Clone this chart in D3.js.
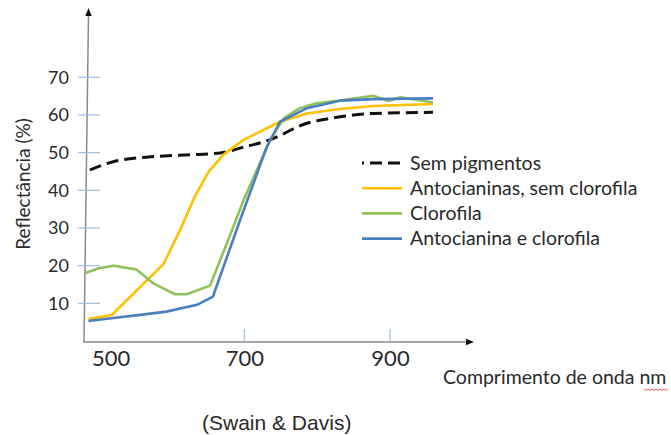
<!DOCTYPE html>
<html>
<head>
<meta charset="utf-8">
<script src="https://cdn.jsdelivr.net/npm/d3@7"></script>
<style>
  body { margin: 0; background: #fff; }
  text { font-family: Lato, "Open Sans", sans-serif; fill: #2a2a2a; }
</style>
</head>
<body>
<svg id="chart" width="671" height="435"></svg>
<script>
// values (wavelength nm, reflectance %)
var semPigmentos = [[488,45.4],[520,47.6],[566,48.8],[620,49.4],[667,49.9],[694,51.2],[735,53.4],[786,57.8],[818,59.1],[877,60.4],[959,60.7]];
var antocianinas = [[486,5.8],[518,6.9],[589,20.4],[612,29.5],[632,38.3],[651,44.9],[671,49.4],[699,53.4],[749,58.2],[786,60.4],[831,61.6],[877,62.4],[959,62.9]];
var clorofila = [[481,18.0],[500,19.3],[520,20.0],[552,19.0],[575,15.3],[605,12.4],[621,12.4],[653,14.7],[676,25.9],[699,37.4],[735,53.2],[754,59.1],[776,61.8],[799,63.1],[831,63.8],[877,65.1],[898,63.7],[914,64.7],[959,63.3]];
var antoClorofila = [[486,5.3],[520,6.1],[560,7.0],[593,7.8],[635,9.6],[657,11.8],[694,32.0],[731,51.6],[749,58.2],[786,61.8],[831,63.8],[877,64.2],[959,64.4]];

var seriesNames = ["Sem pigmentos", "Antocianinas, sem clorofila", "Clorofila", "Antocianina e clorofila"];
var xTicks = [500, 700, 900];
var xTickMarks = [700, 900];
var yTicks = [10, 20, 30, 40, 50, 60, 70];

var svg = d3.select("#chart");

var x = d3.scaleLinear().domain([500, 900]).range([98.6, 390]);
var y = d3.scaleLinear().domain([0, 70]).range([341, 77.3]);

var colors = ["#111", "#ffc000", "#92c05a", "#4a7fc1"];
var allSeries = [semPigmentos, antocianinas, clorofila, antoClorofila];

// axes lines (slightly tilted y axis like the original drawing)
svg.append("line").attr("x1", 88.5).attr("y1", 14).attr("x2", 84).attr("y2", 342)
  .attr("stroke", "#8a8a8a").attr("stroke-width", 1.5);
svg.append("path").attr("d", "M88.5,8 L85.3,16 L91.7,16 Z").attr("fill", "#111");
svg.append("line").attr("x1", 83).attr("y1", 342).attr("x2", 468).attr("y2", 342)
  .attr("stroke", "#8a8a8a").attr("stroke-width", 1.5);
svg.append("path").attr("d", "M474,342 L466,338.8 L466,345.2 Z").attr("fill", "#111");

// y ticks
svg.selectAll(".ytick").data(yTicks).enter().append("line")
  .attr("x1", 78).attr("x2", 100)
  .attr("y1", function(d) { return y(d); }).attr("y2", function(d) { return y(d); })
  .attr("stroke", "#9dbfe3").attr("stroke-width", 1.2);

var yAxis = svg.append("g").attr("transform", "translate(84,0)")
  .call(d3.axisLeft(y).tickValues(yTicks).tickSize(0).tickPadding(15));
yAxis.select(".domain").remove();
yAxis.selectAll("text").style("font-size", "18px").style("font-family", "Lato");

// x ticks
svg.selectAll(".xtick").data(xTickMarks).enter().append("line")
  .attr("x1", function(d) { return x(d); }).attr("x2", function(d) { return x(d); })
  .attr("y1", 329).attr("y2", 342)
  .attr("stroke", "#9dbfe3").attr("stroke-width", 1.2);

var xAxis = svg.append("g").attr("transform", "translate(0,342)")
  .call(d3.axisBottom(x).tickValues(xTicks).tickSize(0).tickPadding(8));
xAxis.select(".domain").remove();
xAxis.selectAll("text").style("font-size", "22px").style("font-family", "Lato");
// the first label sits a bit right of its place in the original
xAxis.selectAll("text").filter(function(d) { return d == 500; }).attr("dx", 12);

// lines
var line = d3.line()
  .x(function(d) { return x(d[0]); })
  .y(function(d) { return y(d[1]); });

allSeries.forEach(function(s, i) {
  svg.append("path")
    .datum(s)
    .attr("d", i == 0 ? line.curve(d3.curveMonotoneX)(s) : line.curve(d3.curveLinear)(s))
    .attr("fill", "none")
    .attr("stroke", colors[i])
    .attr("stroke-width", i == 0 ? 3 : 2.6)
    .attr("stroke-dasharray", i == 0 ? "12,6" : null)
    .attr("stroke-linejoin", "round");
});

// legend
var leg = svg.append("g");
seriesNames.forEach(function(name, i) {
  var ly = 163 + i * 25.2;
  leg.append("line").attr("x1", 362).attr("x2", 402).attr("y1", ly).attr("y2", ly)
    .attr("stroke", colors[i]).attr("stroke-width", i == 0 ? 3 : 2.6)
    .attr("stroke-dasharray", i == 0 ? "12,6" : null)
    .attr("stroke-dashoffset", i == 0 ? 10 : null);
  leg.append("text").attr("x", 410).attr("y", ly + 6.5)
    .style("font-size", "19.5px").text(name);
});

// axis titles
svg.append("text")
  .attr("transform", "translate(30,184) rotate(-90)")
  .attr("text-anchor", "middle")
  .style("font-size", "19px")
  .text("Reflectância (%)");

svg.append("text").attr("x", 443).attr("y", 384)
  .style("font-size", "19.5px")
  .text("Comprimento de onda nm");

// spell-check squiggle under "nm"
var sq = "M644,389";
for (var k = 0; k < 12; k++) { sq += " l2," + (k % 2 ? -1.5 : 1.5); }
svg.append("path").attr("d", sq).attr("fill", "none").attr("stroke", "#e03030").attr("stroke-width", 0.8);

svg.append("text").attr("x", 202).attr("y", 430)
  .style("font-family", "Liberation Sans, Arial, sans-serif")
  .style("font-size", "21px")
  .text("(Swain & Davis)");
</script>
</body>
</html>
